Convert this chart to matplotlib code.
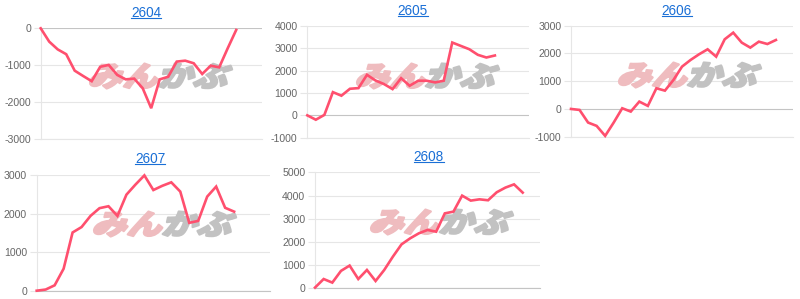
import numpy as np
import matplotlib
matplotlib.use("Agg")
import matplotlib.pyplot as plt
from matplotlib.textpath import TextPath
from matplotlib.font_manager import FontProperties
from matplotlib.patches import PathPatch
from matplotlib.transforms import Affine2D
from matplotlib.lines import Line2D

# ---- data ----
titles = ["2604", "2605", "2606", "2607", "2608"]
n_categories = 27

s2604 = [0, -360, -570, -700, -1145, -1290, -1430, -1040, -990, -1260, -1380, -1360,
         -1620, -2160, -1380, -1310, -900, -875, -945, -1235, -1010, -1055, -540, -45]
s2605 = [0, -195, 20, 1040, 880, 1190, 1220, 1815, 1560, 1400, 1175, 1665, 1325,
         1550, 1550, 1475, 1550, 3260, 3110, 2960, 2710, 2590, 2680]
s2606 = [0, -35, -490, -610, -970, -490, 25, -95, 265, 110, 745, 660, 1045, 1525,
         1765, 1970, 2150, 1885, 2510, 2750, 2390, 2210, 2425, 2340, 2485]
s2607 = [0, 30, 140, 570, 1510, 1650, 1940, 2140, 2190, 1940, 2490, 2750, 2990,
         2610, 2720, 2810, 2570, 1760, 1810, 2440, 2700, 2150, 2050]
s2608 = [30, 400, 245, 750, 980, 400, 790, 315, 790, 1365, 1895, 2155, 2370, 2515,
         2440, 3230, 3305, 3995, 3780, 3835, 3795, 4140, 4340, 4480, 4125]
series = [s2604, s2605, s2606, s2607, s2608]
y_limits = [(-3000, 0), (-1000, 4000), (-1000, 3000), (0, 3000), (0, 5000)]
y_step = 1000

# ---- layout (pixels) ----
W, H = 800, 299
boxes = [  # left, right, top, bottom
    (40.7, 261.7, 28.3, 139.3),
    (307.3, 529.0, 26.0, 137.7),
    (571.0, 793.0, 25.7, 136.7),
    (36.7, 270.0, 175.0, 290.7),
    (315.0, 540.0, 172.3, 288.3),
]
title_pos = [(146, 12.7), (413, 11.0), (677, 10.7), (150.2, 159.0), (428.7, 156.7)]
logo_pos = [(161, 76), (428, 76), (690, 75), (165, 224), (442, 222)]

LINE = "#ff4f6e"
GRID = "#e6e6e6"
ZERO = "#c4c4c4"
TICK = "#666666"
LINK = "#1a6fd6"

fig = plt.figure(figsize=(W / 100, H / 100), dpi=100)
figtrans = Affine2D().scale(1 / W, 1 / H) + fig.transFigure

fp_logo = FontProperties(family=["Noto Sans CJK JP"], weight="black")


def logo(ax, cx, cy, width=138, height=25):
    tp1 = TextPath((0, 0), "みん", size=30, prop=fp_logo)
    tp2 = TextPath((0, 0), "かぶ", size=30, prop=fp_logo)
    b1 = tp1.get_extents()
    b2 = tp2.get_extents()
    tp2 = tp2.transformed(Affine2D().translate(b1.x1 - b2.x0 + 2, 0))
    b2 = tp2.get_extents()
    x0 = min(b1.x0, b2.x0)
    x1 = max(b1.x1, b2.x1)
    y0 = min(b1.y0, b2.y0)
    y1 = max(b1.y1, b2.y1)
    k = np.tan(np.radians(18))
    aff = (Affine2D().translate(-x0, -y0)
           .scale(width / (x1 - x0), height / (y1 - y0))
           .skew(np.arctan(k), 0)
           .translate(cx - width / 2 - k * height / 2, H - cy - height / 2))
    p1 = tp1.transformed(aff)
    p2 = tp2.transformed(aff)
    ax.add_patch(PathPatch(p1, transform=figtrans, facecolor="#efbcbf",
                           edgecolor="#efbcbf", lw=1.6, joinstyle="round",
                           zorder=1, clip_on=False))
    ax.add_patch(PathPatch(p2, transform=figtrans, facecolor="#c2c2c2",
                           edgecolor="#c2c2c2", lw=1.6, joinstyle="round",
                           zorder=1, clip_on=False))


axes = []
for i in range(5):
    l, r, t, b = boxes[i]
    ax = fig.add_axes([l / W, 1 - b / H, (r - l) / W, (b - t) / H])
    ax.set_facecolor("none")
    vals = series[i]
    x = np.arange(len(vals))
    ax.plot(x, vals, color=LINE, lw=1.9, zorder=3, solid_joinstyle="miter",
            clip_on=False)
    ax.set_xlim(0, n_categories - 1)
    lo, hi = y_limits[i]
    ax.set_ylim(lo, hi)
    ticks = np.arange(lo, hi + 1, y_step)
    ax.set_yticks(ticks)
    ax.set_yticklabels([str(int(v)) for v in ticks])
    ax.set_xticks([])
    for v in ticks:
        ax.axhline(v, color=ZERO if v == 0 else GRID, lw=0.8, zorder=0.5)
    for sp in ["top", "right"]:
        ax.spines[sp].set_visible(False)
    ax.spines["left"].set_color(GRID)
    ax.spines["left"].set_linewidth(0.8)
    ax.spines["bottom"].set_color(ZERO if lo == 0 else GRID)
    ax.spines["bottom"].set_linewidth(0.8)
    ax.tick_params(axis="y", length=5, width=0.8, color=GRID, pad=2.0,
                   labelsize=7.6, labelcolor=TICK)
    for lab in ax.get_yticklabels():
        lab.set_family(["Liberation Sans", "DejaVu Sans"])
    logo(ax, *logo_pos[i])
    axes.append(ax)

# titles with underline
fig.canvas.draw()
renderer = fig.canvas.get_renderer()
for i in range(5):
    tx, ty = title_pos[i]
    t = fig.text(tx / W, 1 - ty / H, titles[i], color=LINK, fontsize=9.8,
                 ha="center", va="center", family=["Liberation Sans", "DejaVu Sans"])
    bb = t.get_window_extent(renderer=renderer)
    uy = 1 - (ty + 5.3) / H
    fig.add_artist(Line2D([bb.x0 / W, bb.x1 / W], [uy, uy], color=LINK, lw=0.8,
                          transform=fig.transFigure))

fig.savefig("out.png", dpi=100)
